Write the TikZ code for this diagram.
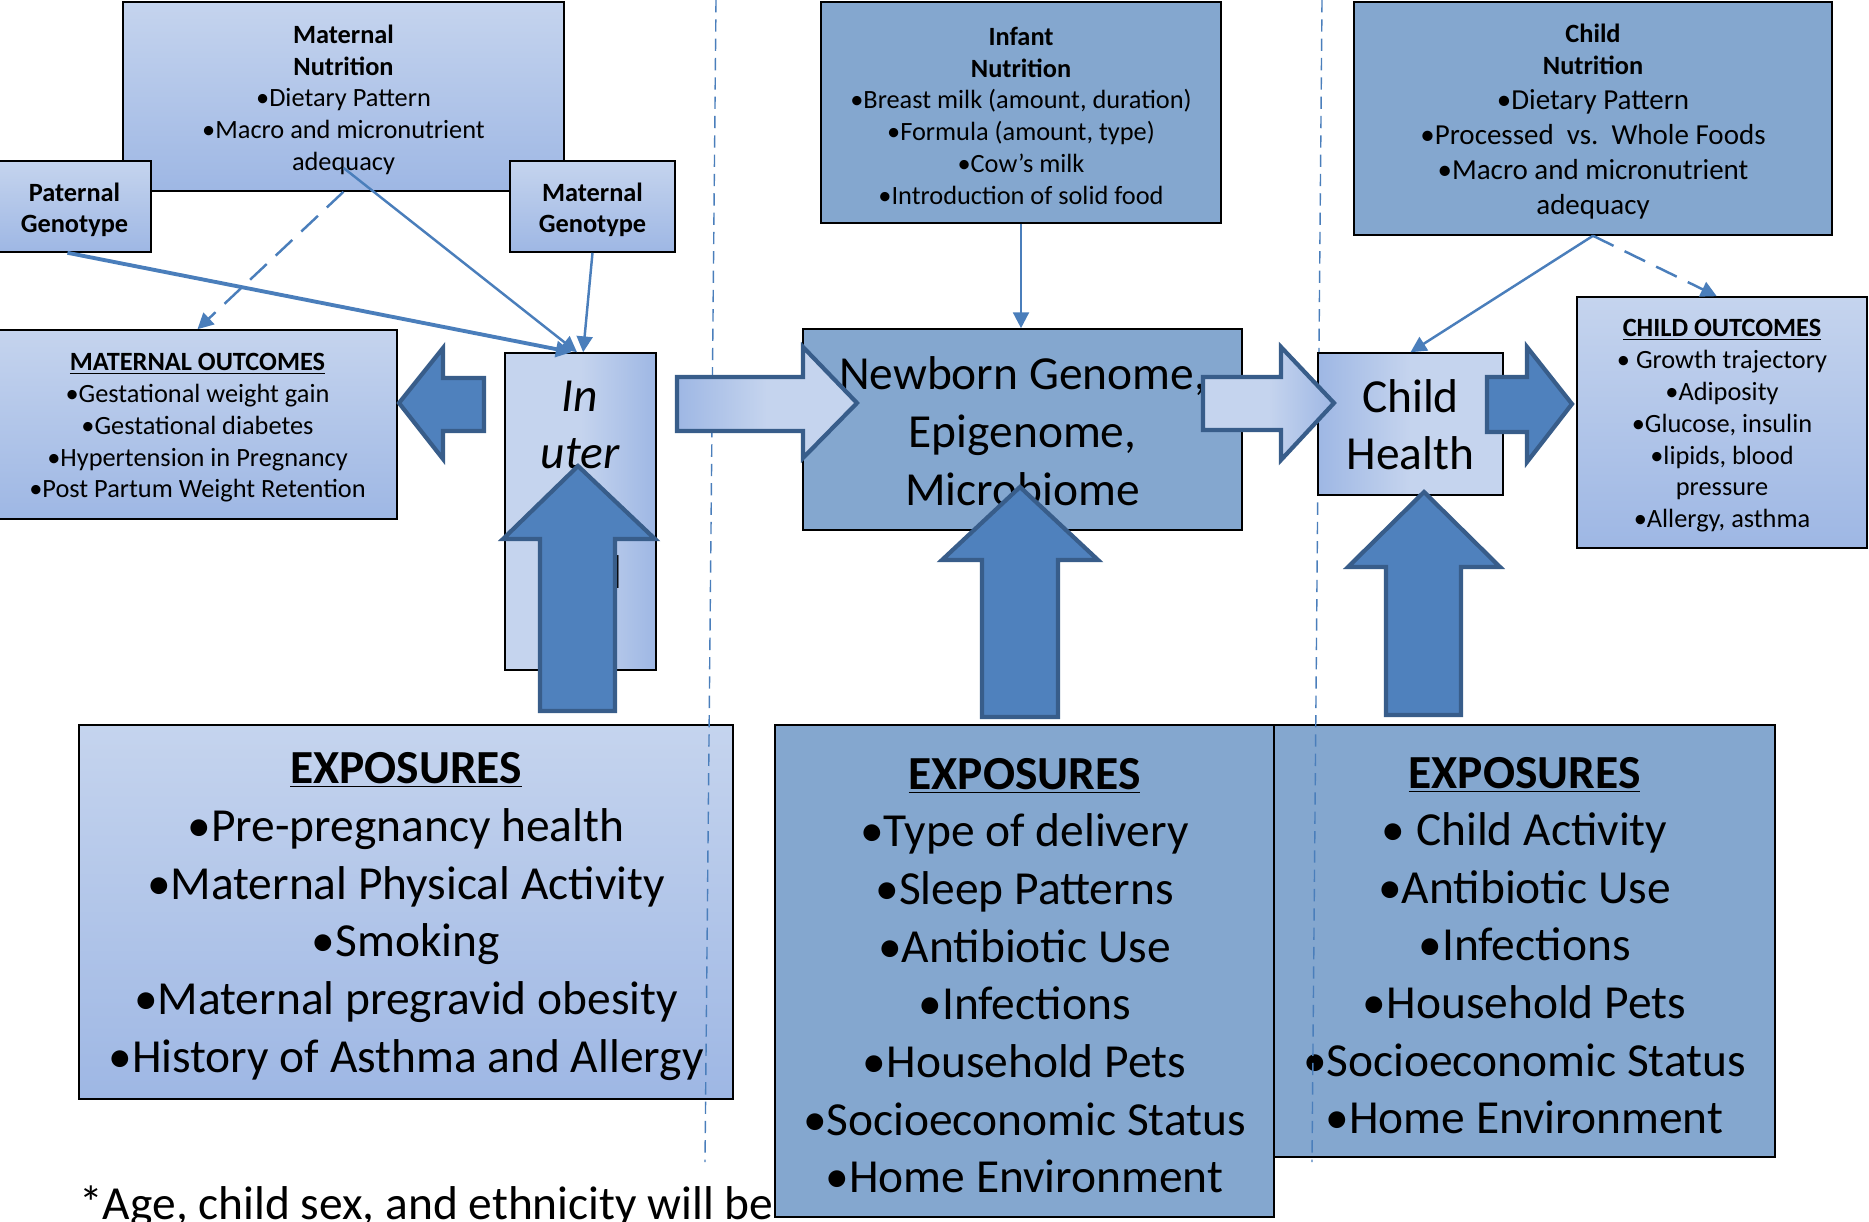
\documentclass[tikz,border=0pt]{standalone}
\usepackage{fontspec}
\setmainfont{Carlito}
\usepackage{xcolor}
\usetikzlibrary{fit, arrows.meta}

\definecolor{boxlight}{HTML}{C5D4EE}
\definecolor{boxmid}{HTML}{9EB7E4}
\definecolor{boxdark}{HTML}{84A7CF}
\definecolor{arrowfill}{HTML}{4F81BD}
\definecolor{arrowline}{HTML}{385D8A}
\definecolor{linkblue}{HTML}{4A7EBB}

\newcommand{\fsSmall}{\fontsize{15}{18.1}\selectfont}
\newcommand{\fsMid}{\fontsize{16.5}{20}\selectfont}
\newcommand{\fsBig}{\fontsize{27}{32.8}\selectfont}

\begin{document}
\begin{tikzpicture}[x=0.02cm, y=-0.02cm,
        lightbox/.style={
                draw=black,
                line width=0.9pt,
                top color=boxlight, bottom color=boxmid,
                inner sep=0pt,
        },
        darkbox/.style={
                draw=black,
                line width=0.9pt,
                fill=boxdark,
                inner sep=0pt,
        },
        smalltext/.style={align=center, inner sep=0pt, font=\fsSmall, yshift=-1.9pt},
        bigtext/.style={align=center, inner sep=0pt, font=\fsBig, yshift=-2.6pt},
        bigarrow/.style={draw=arrowline, line width=2.4pt, fill=arrowfill, line join=miter},
        lightarrow/.style={draw=arrowline, line width=2.4pt, line join=miter},
        link/.style={draw=linkblue, line width=1.4pt, -{Triangle[length=9pt, width=9pt]}},
        linkdash/.style={link, dash pattern=on 13pt off 7pt},
        divider/.style={draw=linkblue, line width=0.8pt, dash pattern=on 7pt off 4pt},
        ]
            \path[use as bounding box] (0,0) rectangle (1869,1222);
            \clip (0,0) rectangle (1869,1222);

            % footnote, half hidden by the middle box
            \node[anchor=base west, inner sep=0pt, font=\fsBig] (note) at (79,1219) {*Age, child sex, and ethnicity will be};

            % exposures
            \node[lightbox, fit={(79,725) (733,1099)}] (exppre) {};
            \node[bigtext] (exppretext) at (exppre.center) {\underline{\textbf{EXPOSURES}}\\
                •Pre-pregnancy health\\ •Maternal Physical Activity\\ •Smoking\\
                •Maternal pregravid obesity\\ •History of Asthma and Allergy};
            \node[darkbox, fit={(775,725) (1274,1217)}] (expinf) {};
            \node[bigtext] (expinftext) at (expinf.center) {\underline{\textbf{EXPOSURES}}\\
                •Type of delivery\\ •Sleep Patterns\\ •Antibiotic Use\\ •Infections\\
                •Household Pets\\ •Socioeconomic Status\\ •Home Environment};
            \node[darkbox, fit={(1274,725) (1775,1157)}] (expchild) {};
            \node[bigtext] (expchildtext) at (expchild.center) {\underline{\textbf{EXPOSURES}}\\
                • Child Activity\\ •Antibiotic Use\\ •Infections\\
                •Household Pets\\ •Socioeconomic Status\\ •Home Environment};

            % period dividers
            \coordinate (diva) at (716,0);
            \coordinate (divb) at (705,1162);
            \coordinate (divc) at (1322,0);
            \coordinate (divd) at (1312,1162);
            \draw[divider] (diva) -- (divb);
            \draw[divider] (divc) -- (divd);

            % pregnancy
            \node[lightbox, fit={(123,2) (564,191)}] (matnut) {};
            \node[smalltext] (matnuttext) at (matnut.center) {\textbf{Maternal}\\ \textbf{Nutrition}\\
                •Dietary Pattern\\ •Macro and micronutrient\\ adequacy};
            \node[lightbox, fit={(-2,161) (151,252)}] (patgen) {};
            \node[smalltext] (patgentext) at (patgen.center) {\textbf{Paternal}\\ \textbf{Genotype}};
            \node[lightbox, fit={(510,161) (675,252)}] (matgen) {};
            \node[smalltext] (matgentext) at (matgen.center) {\textbf{Maternal}\\ \textbf{Genotype}};
            \node[lightbox, fit={(-2,330) (397,519)}] (matout) {};
            \node[smalltext] (matouttext) at (matout.center) {\underline{\textbf{MATERNAL OUTCOMES}}\\
                •Gestational weight gain\\ •Gestational diabetes\\
                •Hypertension in Pregnancy\\ •Post Partum Weight Retention};
            \node[lightbox, left color=boxlight, right color=boxmid, middle color=boxlight, fit={(505,353) (656,670)}] (utero) {};
            \node[font=\fsBig\itshape, align=center, inner sep=0pt] (uterotext) at (580,425) {In\\ uter};
            \node[font=\fsBig, inner sep=0pt] (uterotail) at (617,572) {l};

            % infancy
            \node[darkbox, fit={(821,2) (1221,223)}] (infnut) {};
            \node[smalltext] (infnuttext) at (infnut.center) {\textbf{Infant}\\ \textbf{Nutrition}\\
                •Breast milk (amount, duration)\\ •Formula (amount, type)\\
                •Cow’s milk\\ •Introduction of solid food};
            \node[darkbox, fit={(803,329) (1242,530)}] (newborn) {};
            \node[bigtext, yshift=1.6pt] (newborntext) at (newborn.center) {Newborn Genome,\\ Epigenome,\\ Microbiome};

            % childhood
            \node[darkbox, fit={(1354,2) (1832,235)}] (chnut) {};
            \node[smalltext, font=\fsMid] (chnuttext) at (chnut.center) {{\fsSmall\textbf{Child}}\\[-2pt] {\fsSmall\textbf{Nutrition}}\\
                •Dietary Pattern\\ •Processed\ \ vs.\ \ Whole Foods\\
                •Macro and micronutrient\\ adequacy};
            \node[lightbox, left color=boxmid, right color=boxlight, middle color=boxlight, fit={(1318,353) (1503,495)}] (chhealth) {};
            \node[bigtext, yshift=2.3pt] (chhealthtext) at (chhealth.center) {Child\\ Health};
            \node[lightbox, fit={(1577,297) (1867,548)}] (chout) {};
            \node[smalltext] (chouttext) at (chout.center) {\underline{\textbf{CHILD OUTCOMES}}\\
                • Growth trajectory\\ •Adiposity\\ •Glucose, insulin\\
                •lipids, blood\\ pressure\\ •Allergy, asthma};

            % block arrows
            \draw[bigarrow] (484,378) -- (443,378) -- (443,348) -- (399,403) -- (443,459) -- (443,431) -- (484,431) -- cycle;
            \draw[lightarrow, left color=boxmid, right color=boxlight, middle color=boxlight]
                (677,377) -- (803,377) -- (803,347) -- (857,403) -- (803,458) -- (803,431) -- (677,431) -- cycle;
            \draw[lightarrow, left color=boxlight, right color=boxmid, middle color=boxlight]
                (1203,377) -- (1281,377) -- (1281,347) -- (1334,403) -- (1281,460) -- (1281,430) -- (1203,430) -- cycle;
            \draw[bigarrow] (1487,377) -- (1527,377) -- (1527,347) -- (1572,404) -- (1527,462) -- (1527,432) -- (1487,432) -- cycle;
            \draw[bigarrow] (540,711) -- (540,539) -- (503,539) -- (578,466) -- (655,539) -- (615,539) -- (615,711) -- cycle;
            \draw[bigarrow] (982,717) -- (982,560) -- (942,560) -- (1020,487) -- (1098,560) -- (1058,560) -- (1058,717) -- cycle;
            \draw[bigarrow] (1386,715) -- (1386,567) -- (1348,567) -- (1424,492) -- (1500,567) -- (1461,567) -- (1461,715) -- cycle;

            % links
            \draw[link] ([yshift=13.6pt]matnut.south) -- ([xshift=-2pt]utero.north);
            \draw[linkdash] (matnut.south) -- (matout.north);
            \draw[link, line width=2.2pt] ([xshift=-4pt]patgen.south) -- ([xshift=-5pt]utero.north);
            \draw[link] (matgen.south) -- ([xshift=1.5pt]utero.north);
            \draw[link] (infnut.south) -- (infnut.south |- newborn.north);
            \draw[link] (chnut.south) -- (chhealth.north);
            \draw[linkdash] (chnut.south) -- ([xshift=-3pt]chout.north);
        \end{tikzpicture}
\end{document}
